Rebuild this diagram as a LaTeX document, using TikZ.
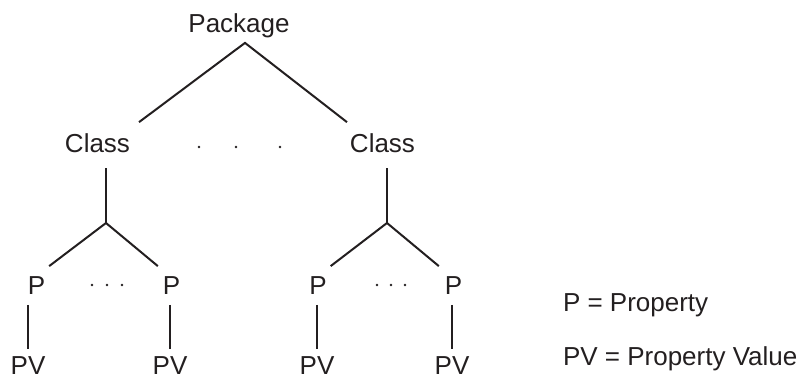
\documentclass[tikz,border=0pt]{standalone}
\usepackage{fontspec}
\setmainfont{Liberation Sans}
\definecolor{ink}{RGB}{35,31,32}

% row baselines (px, y down)
\def\yc{153}
\def\yp{295}
\def\yv{374}
\def\yj{223}

\begin{document}
\begin{tikzpicture}[x=0.75pt, y=-0.75pt, line width=1.5pt, draw=ink,
    nodes={anchor=base, inner sep=0pt, text=ink,
        font=\fontsize{19.5}{23}\selectfont},
    ]
    \useasboundingbox (0,0) rectangle (806,377);
    \node (pkg) at (239,33) {Package};
    \node (cl) at (97.5,\yc) {Class};
    \node (cr) at (382.5,\yc) {Class};
    \draw ([shift={(8,-11)}]cl.north east) -- ([shift={(6,3.5)}]pkg.south)
        -- ([shift={(-2,-11)}]cr.north west);
    \foreach \x in {199,236,280} \fill[ink] (\x,147) circle (1pt);
    % junctions below each class
    \coordinate (jl) at (106,\yj);
    \coordinate (jr) at (387,\yj);
    \draw[shorten <=10.5pt] (cl.south -| jl) -- (jl);
    \draw[shorten <=10.5pt] (cr.south -| jr) -- (jr);
    \foreach \n/\px/\vx in {a/36.5/28, b/171.5/170, c/318/317, d/453.5/452} {
        \node (p\n) at (\px,\yp) {P};
        \node (v\n) at (\vx,\yv) {PV};
        \draw[shorten <=6.75pt, shorten >=4.5pt] (p\n.south -| v\n.north) -- (v\n.north);
    }
    \draw ([shift={(3,-10)}]pa.north east) -- (jl) -- ([shift={(-4,-10)}]pb.north west);
    \draw ([shift={(3,-10)}]pc.north east) -- (jr) -- ([shift={(-5,-10)}]pd.north west);
    \foreach \x in {92,107,122,377,391,405} \fill[ink] (\x,285) circle (1pt);
    %\node (dots) at (107,\yp) {$\cdots$};
    % legend
    \node[anchor=base west] (lp) at (562,312) {P = Property};
    \node[anchor=base west] (lpv) at (562,365) {PV = Property Value};
\end{tikzpicture}
\end{document}
